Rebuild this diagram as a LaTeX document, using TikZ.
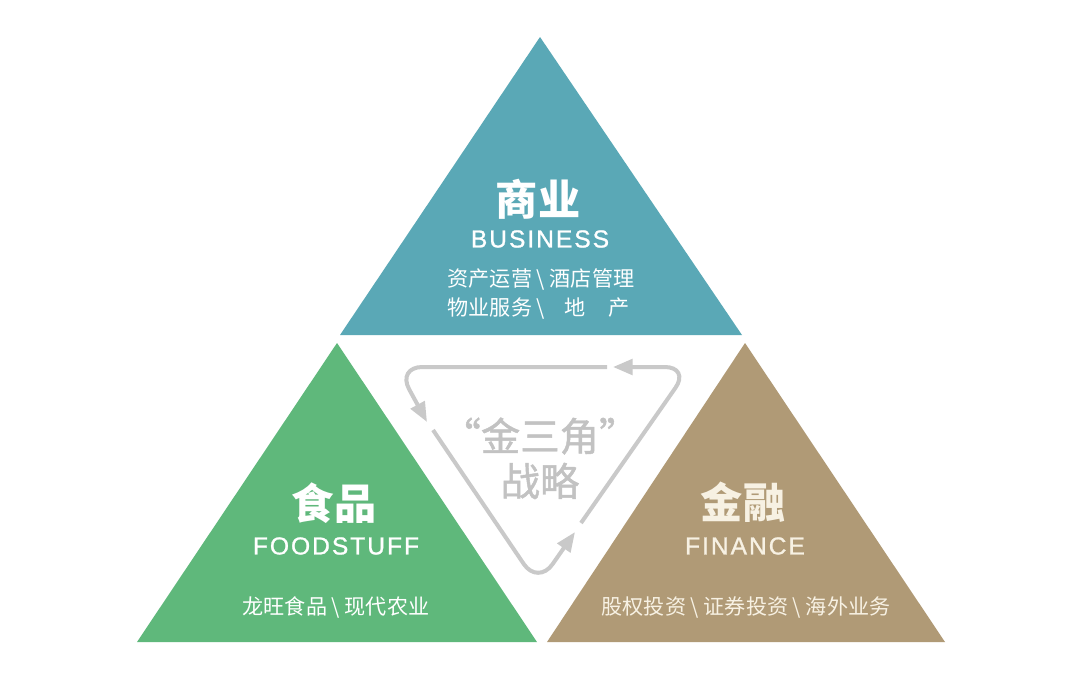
\documentclass[tikz,border=0pt]{standalone}
\usepackage{fontspec}
\newfontfamily\cjk{Noto Sans CJK SC}
\newfontfamily\cjkmid[FakeBold=1.2]{Noto Sans CJK SC}
\newfontfamily\eng[LetterSpace=8,FakeBold=1]{Liberation Sans}
\usetikzlibrary{arrows.meta}
\definecolor{teal1}{HTML}{5AA8B6}
\definecolor{green1}{HTML}{5FB87B}
\definecolor{tan1}{HTML}{B09A76}
\definecolor{cream1}{HTML}{F7F1E3}
\definecolor{loop1}{HTML}{C9C9C9}
\definecolor{loop2}{HTML}{C2C2C2}

\begin{document}
\begin{tikzpicture}[x=0.025cm,y=-0.025cm]
   \tikzset{title/.style={inner sep=0, font=\cjk\bfseries\fontsize{30pt}{32pt}\selectfont},
            eng/.style={inner sep=0, font=\eng\fontsize{17.5pt}{20pt}\selectfont},
            info/.style={inner sep=0, align=left, font=\cjk\fontsize{15pt}{20pt}\selectfont},
            loop/.style={draw=loop1, line width=2.85pt, rounded corners=18pt,
                         -{Triangle[length=14pt,width=11pt]}}};
   \fill[white] (0,0) rectangle (1080,672);
   \useasboundingbox (0,0) rectangle (1080,672);

\coordinate (0) at (540,37);
\coordinate (1) at (340,335);
\coordinate (2) at (742,335);
\coordinate (3) at (337,343);
\coordinate (4) at (137,642);
\coordinate (5) at (537,642);
\coordinate (6) at (745,343);
\coordinate (7) at (547,642);
\coordinate (8) at (945,642);

\fill[teal1] (0) -- (1) -- (2) -- cycle;
\fill[green1] (3) -- (4) -- (5) -- cycle;
\fill[tan1] (6) -- (7) -- (8) -- cycle;

\node[title, text=white] (biz) at (538,199) {商业};
\node[eng, text=white] (bizen) at (540,239) {BUSINESS};
\node[info, text=white] (bizinfo) at (541,294) {资产运营 \textbackslash{} 酒店管理\\
   物业服务 \textbackslash\hspace{0.9em}地\hspace{1.1em}产};

\node[title, text=white] (food) at (334,503) {食品};
\node[eng, text=white] (fooden) at (336,546) {FOODSTUFF};
\node[info, text=white] (foodinfo) at (336,607) {龙旺食品 \textbackslash{} 现代农业};

\node[title, text=cream1] (fin) at (743,502) {金融};
\node[eng, text=cream1] (finen) at (745,546) {FINANCE};
\node[info, text=cream1] (fininfo) at (746,607) {股权投资 \textbackslash{} 证券投资 \textbackslash{} 海外业务};

% strategy loop
\coordinate (tl) at (397,367);
\coordinate (tr) at (690,367);
\coordinate (bt) at (538,585);
\coordinate (a0) at (607,367);
\coordinate (a1) at (427,422);
\coordinate (b0) at (433,430);
\coordinate (b1) at (575,532);
\coordinate (c0) at (581,523);
\coordinate (c1) at (613,367);

\draw[loop] (a0) -- (tl) -- (a1);
\draw[loop] (b0) -- (bt) -- (b1);
\draw[loop] (c0) -- (tr) -- (c1);

\node[inner sep=0, text=loop2, font=\cjkmid\fontsize{28pt}{30pt}\selectfont] (gold) at (540,436) {“金三角”};
\node[inner sep=0, text=loop2, font=\cjkmid\fontsize{28pt}{30pt}\selectfont] (plan) at (540,481) {战略};

\end{tikzpicture}
\end{document}
